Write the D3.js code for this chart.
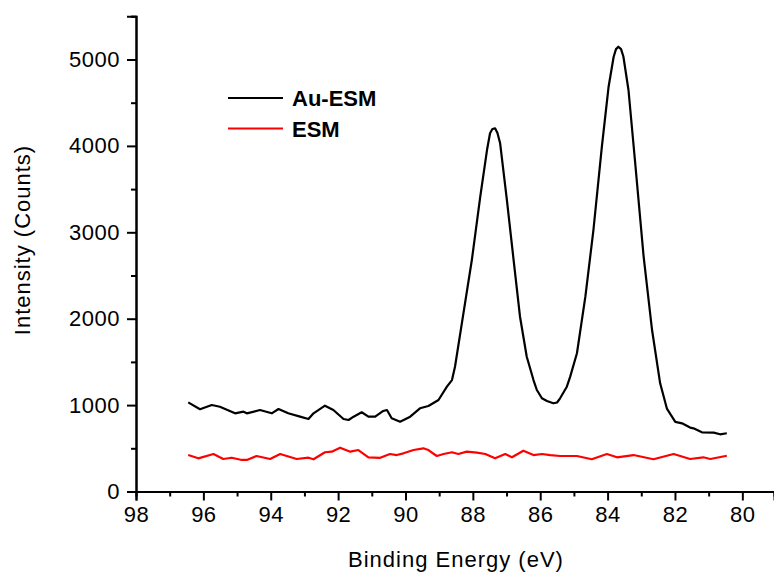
<!DOCTYPE html>
<html>
<head>
<meta charset="utf-8">
<script src="https://cdn.jsdelivr.net/npm/d3@7"></script>
<style>
  body { margin: 0; background: #fff; }
  svg { display: block; font-family: "Liberation Sans", Arial, sans-serif; }
</style>
</head>
<body>
<div id="chart"></div>
<script>
var w = 774;
var h = 576;

// binding energy (eV) and intensity (counts)
var auEnergy = [96.45, 96.10, 95.75, 95.51, 95.06, 94.81, 94.71, 94.32, 93.97, 93.77,
  93.48, 93.13, 92.88, 92.73, 92.39, 92.14, 91.84, 91.69, 91.54, 91.30,
  91.10, 90.90, 90.66, 90.55, 90.41, 90.16, 89.86, 89.57, 89.32, 89.02,
  88.77, 88.62, 88.53, 88.28, 88.03, 87.78, 87.58, 87.49, 87.42, 87.34,
  87.27, 87.19, 86.99, 86.79, 86.60, 86.40, 86.20, 86.10, 85.95, 85.80,
  85.61, 85.50, 85.41, 85.21, 85.11, 84.91, 84.66, 84.42, 84.17, 83.97,
  83.82, 83.75, 83.68, 83.60, 83.53, 83.38, 83.18, 82.93, 82.68, 82.44,
  82.24, 81.99, 81.79, 81.55, 81.45, 81.20, 80.85, 80.66, 80.46];
var auCounts = [1032, 952, 1001, 981, 905, 924, 905, 943, 905, 955,
  905, 866, 839, 905, 993, 943, 839, 828, 866, 917,
  866, 866, 932, 943, 847, 808, 866, 963, 990, 1059,
  1213, 1290, 1444, 2062, 2679, 3412, 3952, 4146, 4195, 4203,
  4150, 4030, 3374, 2679, 2023, 1560, 1290, 1175, 1079, 1047,
  1021, 1030, 1079, 1213, 1329, 1600, 2255, 3027, 3991, 4685,
  5032, 5120, 5148, 5120, 5032, 4647, 3799, 2718, 1869, 1252,
  960, 805, 789, 740, 731, 685, 681, 662, 674];

var esmEnergy = [96.45, 96.15, 95.70, 95.41, 95.16, 94.86, 94.71, 94.42, 94.02, 93.72,
  93.23, 92.88, 92.73, 92.39, 92.19, 91.94, 91.64, 91.40, 91.10, 90.75,
  90.46, 90.26, 90.06, 89.76, 89.47, 89.32, 89.07, 88.87, 88.62, 88.43,
  88.18, 87.88, 87.63, 87.34, 87.04, 86.84, 86.50, 86.20, 85.95, 85.70,
  85.41, 84.91, 84.47, 84.02, 83.72, 83.23, 82.64, 82.04, 81.55, 81.16,
  80.95, 80.46];
var esmCounts = [422, 384, 434, 376, 391, 365, 365, 411, 376, 434,
  376, 391, 373, 454, 461, 507, 461, 480, 396, 390,
  434, 422, 442, 480, 500, 480, 411, 434, 454, 434,
  461, 449, 434, 384, 434, 396, 472, 422, 434, 422,
  411, 411, 373, 434, 396, 422, 373, 434, 376, 396,
  376, 414];

var seriesNames = ["Au-ESM", "ESM"];
var seriesColors = ["#000000", "#ff0000"];

var xMajor = [98, 96, 94, 92, 90, 88, 86, 84, 82, 80];
var xMinor = [97, 95, 93, 91, 89, 87, 85, 83, 81];
var yMajor = [0, 1000, 2000, 3000, 4000, 5000];
var yMinor = [500, 1500, 2500, 3500, 4500, 5500];

var x = d3.scaleLinear().domain([98, 79.06]).range([136, 774]);
var y = d3.scaleLinear().domain([0, 5500]).range([491.5, 16.3]);

var svg = d3.select("#chart").append("svg")
  .attr("width", w)
  .attr("height", h);

function styleAxis(g) {
  g.select(".domain").attr("stroke", "#000").attr("stroke-width", 2);
  g.selectAll(".tick line").attr("stroke", "#000").attr("stroke-width", 2);
  g.selectAll(".tick text").attr("fill", "#000")
    .style("font-size", "22px").style("letter-spacing", "0.5px");
}

// minor ticks first, majors on top
svg.append("g")
  .attr("transform", "translate(0,491.5)")
  .call(d3.axisBottom(x).tickValues(xMinor).tickSize(5).tickFormat(""))
  .call(styleAxis);
svg.append("g")
  .attr("transform", "translate(136,0)")
  .call(d3.axisLeft(y).tickValues(yMinor).tickSize(5).tickFormat(""))
  .call(styleAxis);

svg.append("g")
  .attr("transform", "translate(0,491.5)")
  .call(d3.axisBottom(x).tickValues(xMajor).tickSize(9).tickPadding(6).tickFormat(d3.format("d")))
  .call(styleAxis);
svg.append("g")
  .attr("transform", "translate(136,0)")
  .call(d3.axisLeft(y).tickValues(yMajor).tickSize(9).tickPadding(7).tickFormat(d3.format("d")))
  .call(styleAxis);

// axis titles
svg.append("text")
  .attr("x", 456).attr("y", 567)
  .attr("text-anchor", "middle")
  .style("font-size", "22px")
  .style("letter-spacing", "1px")
  .text("Binding Energy (eV)");
svg.append("text")
  .attr("transform", "translate(30,240) rotate(-90)")
  .attr("text-anchor", "middle")
  .style("font-size", "22px")
  .style("letter-spacing", "1px")
  .text("Intensity (Counts)");

var line = d3.line()
  .x(function(d){ return x(d[0]); })
  .y(function(d){ return y(d[1]); });

var series = [
  d3.zip(auEnergy, auCounts),
  d3.zip(esmEnergy, esmCounts)
];

svg.selectAll("path.series")
  .data(series)
  .enter().append("path")
    .attr("class", "series")
    .attr("fill", "none")
    .attr("stroke", function(d,i){ return seriesColors[i]; })
    .attr("stroke-width", 2.2)
    .attr("stroke-linejoin", "round")
    .attr("d", line);

// legend
var legend = svg.selectAll("g.legend")
  .data(seriesNames)
  .enter().append("g")
    .attr("class", "legend")
    .attr("transform", function(d,i){ return "translate(228," + (98 + i*30.5) + ")"; });
legend.append("line")
  .attr("x1", 0).attr("x2", 55)
  .attr("stroke", function(d,i){ return seriesColors[i]; })
  .attr("stroke-width", 2.2);
legend.append("text")
  .attr("x", 64).attr("y", 8)
  .style("font-size", "22px")
  .style("font-weight", "bold")
  .text(function(d){ return d; });
</script>
</body>
</html>
